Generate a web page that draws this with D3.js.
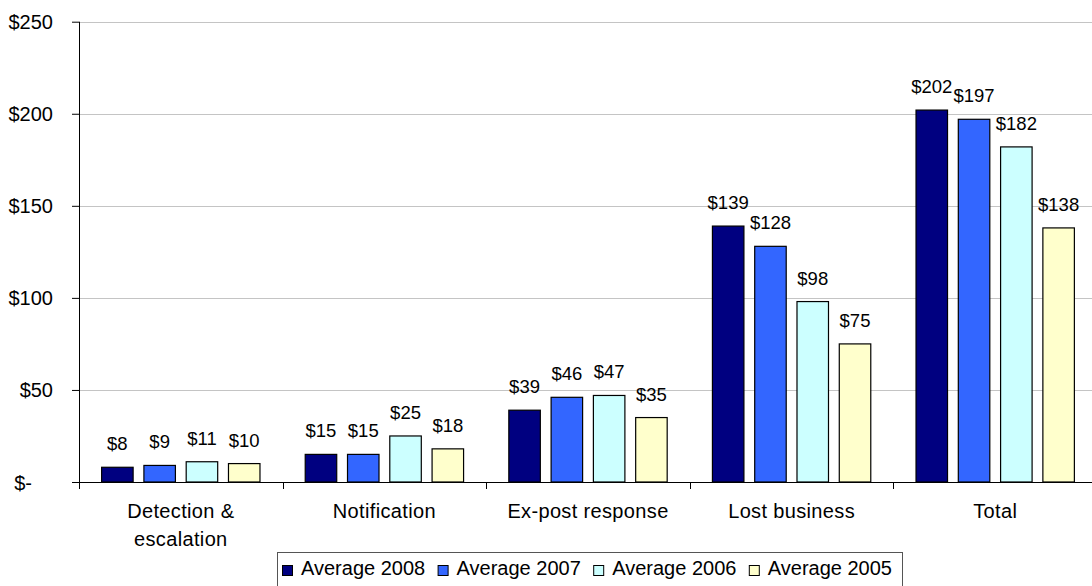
<!DOCTYPE html>
<html>
<head>
<meta charset="utf-8">
<script src="https://cdn.jsdelivr.net/npm/d3@7"></script>
<style>
  html, body { margin: 0; padding: 0; background: #fff; }
  svg { display: block; font-family: "Liberation Sans", Arial, sans-serif; }
</style>
</head>
<body>
<svg id="chart" width="1092" height="586"></svg>
<script>
// Cost components per record (US$), by survey year
const categories = [["Detection &", "escalation"], ["Notification"], ["Ex-post response"], ["Lost business"], ["Total"]];
const seriesNames = ["Average 2008", "Average 2007", "Average 2006", "Average 2005"];
const avg2008 = [8, 15, 39, 139, 202];
const avg2007 = [9, 15, 46, 128, 197];
const avg2006 = [11, 25, 47, 98, 182];
const avg2005 = [10, 18, 35, 75, 138];
const yTicks = [0, 50, 100, 150, 200, 250];
const colors = ["#000080", "#3366FF", "#CCFFFF", "#FFFFCC"];

const seriesValues = [avg2008, avg2007, avg2006, avg2005];

const svg = d3.select("#chart");
const plotLeft = 79, plotRight = 1097, plotTop = 21.7, plotBottom = 482;
const fontSize = 20;
const labelSize = 18.5;

const y = d3.scaleLinear().domain([0, 250]).range([plotBottom, plotTop]);
const x0 = d3.scaleBand().domain(d3.range(categories.length)).range([plotLeft, plotRight]);
const x1 = d3.scaleBand().domain(d3.range(seriesNames.length))
  .range([0, x0.bandwidth()]).paddingInner(0.255).paddingOuter(0.535);

// horizontal gridlines
svg.append("g").selectAll("line")
  .data(yTicks.filter(d => d > 0))
  .join("line")
  .attr("x1", plotLeft).attr("x2", 1092)
  .attr("y1", d => Math.round(y(d)) + 0.5).attr("y2", d => Math.round(y(d)) + 0.5)
  .attr("stroke", "#c4c4c4").attr("stroke-width", 1);

// bars
const groups = svg.append("g").selectAll("g")
  .data(categories.map((c, i) => i))
  .join("g")
  .attr("transform", i => `translate(${x0(i)},0)`);

groups.selectAll("rect")
  .data(i => seriesValues.map((vals, s) => ({ s, v: vals[i] })))
  .join("rect")
  .attr("x", d => x1(d.s))
  .attr("y", d => y(d.v))
  .attr("width", x1.bandwidth())
  .attr("height", d => plotBottom - y(d.v))
  .attr("fill", d => colors[d.s])
  .attr("stroke", "#000").attr("stroke-width", 1.2);

// value labels above each bar
groups.selectAll("text")
  .data(i => seriesValues.map((vals, s) => ({ s, v: vals[i] })))
  .join("text")
  .attr("x", d => x1(d.s) + x1.bandwidth() / 2)
  .attr("y", d => y(d.v) - 17)
  .attr("text-anchor", "middle")
  .attr("font-size", labelSize)
  .attr("fill", "#000")
  .text(d => "$" + d.v);

// y axis
const yAxis = d3.axisLeft(y).tickValues(yTicks).tickSize(7).tickPadding(19)
  .tickFormat(d => d === 0 ? "$-" : "$" + d);
const yg = svg.append("g").attr("transform", `translate(${plotLeft},0)`).call(yAxis);
yg.select(".domain").remove();
yg.selectAll(".tick line").attr("stroke", "#000");
yg.selectAll(".tick text").attr("font-size", fontSize).attr("font-family", "Liberation Sans, Arial, sans-serif")
  .attr("fill", "#000").attr("dy", "0.35em")
  .filter(d => d === 0).attr("dx", -21);
svg.append("line").attr("x1", plotLeft + 0.5).attr("x2", plotLeft + 0.5)
  .attr("y1", plotTop).attr("y2", plotBottom + 7).attr("stroke", "#000");

// x axis
svg.append("line").attr("x1", plotLeft).attr("x2", 1092)
  .attr("y1", plotBottom + 0.5).attr("y2", plotBottom + 0.5).attr("stroke", "#000");
svg.append("g").selectAll("line")
  .data(d3.range(1, categories.length + 1))
  .join("line")
  .attr("x1", i => Math.round(x0(0) + i * x0.step()) + 0.5)
  .attr("x2", i => Math.round(x0(0) + i * x0.step()) + 0.5)
  .attr("y1", plotBottom).attr("y2", plotBottom + 7)
  .attr("stroke", "#000");

svg.append("g").selectAll("text")
  .data(categories.map((c, i) => ({ c, i })))
  .join("text")
  .attr("x", d => x0(d.i) + x0.bandwidth() / 2)
  .attr("y", 518)
  .attr("text-anchor", "middle")
  .attr("font-size", fontSize)
  .attr("letter-spacing", 0.35)
  .attr("fill", "#000")
  .each(function (d) {
    d3.select(this).selectAll("tspan").data(d.c).join("tspan")
      .attr("x", x0(d.i) + x0.bandwidth() / 2)
      .attr("dy", (t, k) => k === 0 ? 0 : 27.5)
      .text(t => t);
  });

// legend
const legendX = 277, legendY = 552, itemStep = 155.6;
svg.append("rect").attr("x", legendX + 0.5).attr("y", legendY + 0.5)
  .attr("width", 625).attr("height", 40)
  .attr("fill", "#fff").attr("stroke", "#555");
const items = svg.append("g").selectAll("g")
  .data(seriesNames.map((n, i) => ({ n, i })))
  .join("g")
  .attr("transform", d => `translate(${legendX + 5 + d.i * itemStep},0)`);
items.append("rect")
  .attr("x", 0.5).attr("y", 565.5).attr("width", 10).attr("height", 10)
  .attr("fill", d => colors[d.i]).attr("stroke", "#000");
items.append("text")
  .attr("x", 19).attr("y", 575)
  .attr("font-size", fontSize).attr("fill", "#000")
  .text(d => d.n);
</script>
</body>
</html>
